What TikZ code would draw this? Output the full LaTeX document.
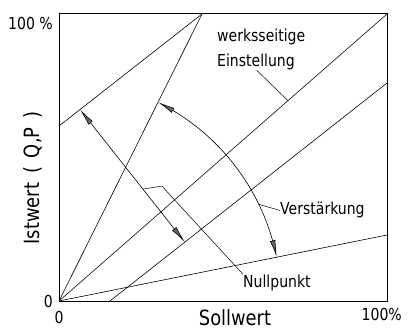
\documentclass[tikz,border=0pt]{standalone}
\usepackage{fontspec}
\setmainfont[FakeStretch=0.85]{DejaVu Sans}
\usepackage{tikz}
\usetikzlibrary{calc,arrows.meta,bending}
\tikzset{
  % --- frame and characteristic lines ----------------------------------------
  frame/.style={draw,line width=1pt},
  kennl/.style={line width=0.6pt},
  lead/.style={line width=0.5pt},
  % --- texts -----------------------------------------------------------------
  lbl/.style={font=\fontsize{16.5}{25}\selectfont,inner sep=0pt},
  axl/.style={font=\fontsize{21}{24}\selectfont,inner sep=0pt},
}

\begin{document}
\begin{tikzpicture}[x=1pt,y=1pt,
  >={Latex[length=17pt,width=5.5pt,fill=black!60,bend]}]
  \useasboundingbox (0,0) rectangle (411,329);
  \coordinate (o) at (59,28);
  \coordinate (tr) at (387,315);
  \coordinate (s) at (202,315);
  \coordinate (l) at (59,203);
  \coordinate (b) at (110,28);
  \coordinate (r) at (387,246);
  \coordinate (n) at (387,94);
  \draw[frame] (o) rectangle (tr);
  \foreach \e in {tr,s,n} \draw[kennl] (o) -- (\e);
  \draw[kennl] (l) -- (s);
  \draw[kennl] (b) -- (r);
  % Nullpunkt: parallel shift
  \coordinate (na) at ($(l)!0.147!(s)$);
  \coordinate (nb) at ($(b)!0.27!(r)$);
  \draw[kennl,<->] (na) -- (nb);
  % Verstaerkung: turn about zero
  \draw[kennl,<->] ($(o)+(63.5:222)$) arc[start angle=63.5,end angle=11.4,radius=222];
  % axes
  \node[axl,anchor=base] (sw) at (235,4) {Sollwert};
  \node[axl,rotate=90,font={\fontsize{21}{24}\selectfont\spaceskip 9pt\relax}] (iw) at (33,151) {Istwert ( Q,P )};
  \node[lbl,anchor=base east] (y100) at (53,299) {100 \%};
  \node[lbl,anchor=east] (y0) at (53,28) {0};
  \node[lbl,anchor=base] (x0) at (59,6) {0};
  \node[lbl,anchor=base east] (x100) at (402,9) {100\%};
  % labels with leaders
  \node[lbl,anchor=north west,align=left] (ws) at (217,300) {werksseitige\\Einstellung};
  \node[lbl,anchor=base west] (vs) at (280,114) {Verstärkung};
  \node[lbl,anchor=base west] (np) at (243,42) {Nullpunkt};
  \coordinate (wsd) at ($(o)!0.698!(tr)$);
  \draw[lead] ($(ws.south west)!0.45!(ws.south east)$) -- (wsd);
  \draw[lead] ($(o)+(25.8:222)$) -- (vs.west);
  \coordinate (nc) at ($(na)!0.6!(nb)$);
  \draw[lead] (nc) -- ++(19,3) -- (np.north west);
\end{tikzpicture}
\end{document}
